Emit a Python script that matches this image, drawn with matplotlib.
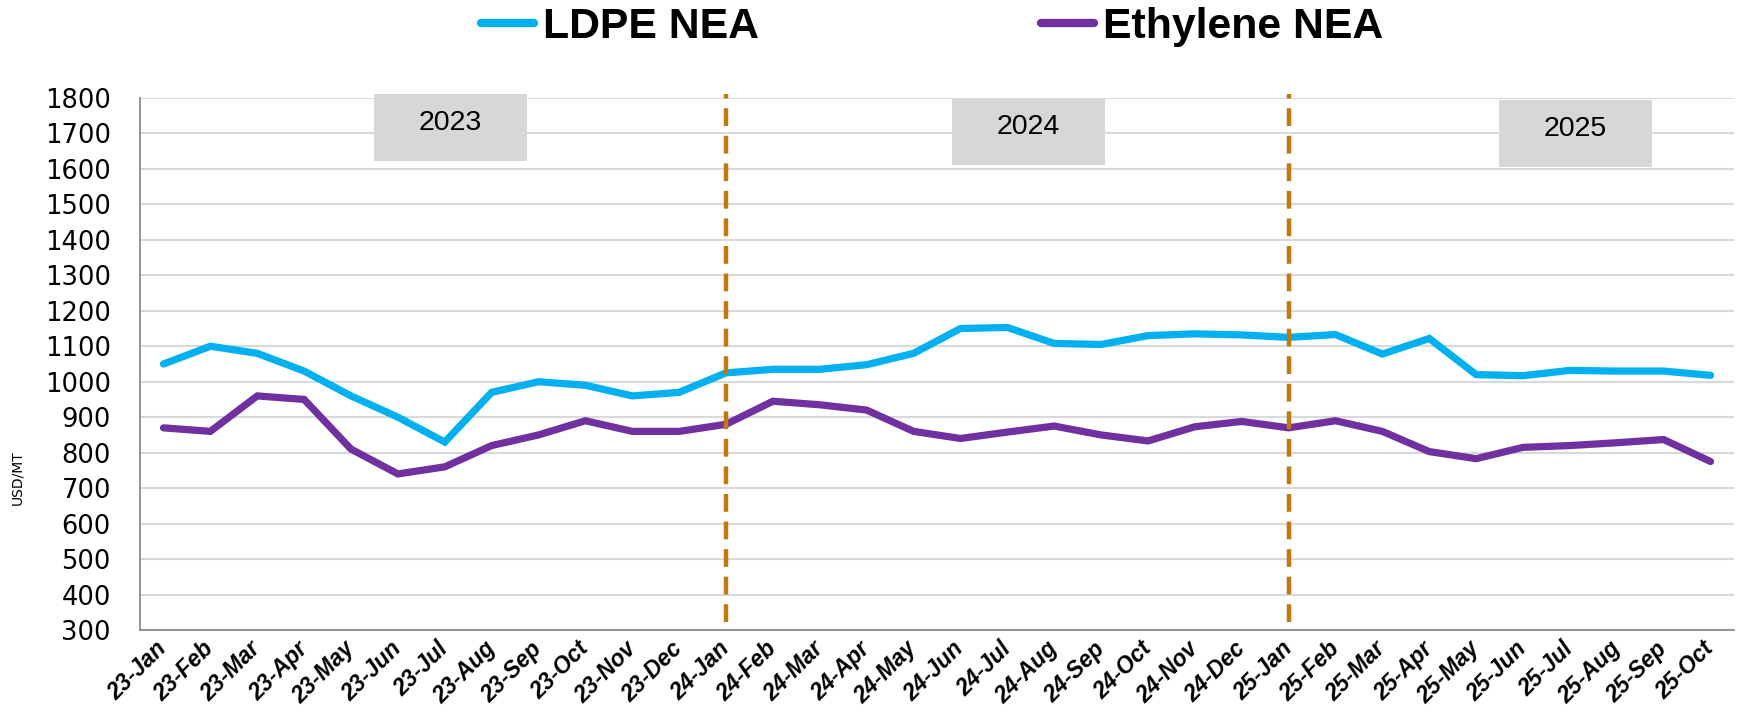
import numpy as np
import matplotlib.pyplot as plt
from matplotlib.patches import Rectangle

########################################################### Data ###########################################################

months = ['Jan', 'Feb', 'Mar', 'Apr', 'May', 'Jun', 'Jul', 'Aug', 'Sep', 'Oct', 'Nov', 'Dec']
categories = [f'{yy}-{m}' for yy in ('23', '24') for m in months] + [f'25-{m}' for m in months[:10]]

ldpe_nea = [1050, 1100, 1080, 1030, 960, 900, 830, 970, 1000, 990, 960, 970,
            1025, 1035, 1035, 1048, 1080, 1150, 1153, 1108, 1105, 1130, 1135, 1132,
            1125, 1133, 1078, 1122, 1020, 1017, 1032, 1030, 1030, 1018]

ethylene_nea = [870, 860, 960, 950, 810, 740, 760, 820, 850, 890, 860, 860,
                880, 945, 935, 920, 860, 840, 858, 875, 850, 833, 873, 888,
                870, 890, 860, 803, 783, 815, 820, 828, 837, 775]

year_labels = ['2023', '2024', '2025']
year_box_x = [4.48, 16.81, 28.48]
year_box_top = [1812, 1800, 1794]
year_dividers = ['24-Jan', '25-Jan']

########################################################### Plot ###########################################################

plt.rcParams['font.family'] = ['DejaVu Sans']

fig = plt.figure(figsize=(17.42, 7.13), dpi=100)
ax = fig.add_axes([0.0804, 0.1164, 0.915, 0.7462])

x = np.arange(len(categories))

ax.plot(x, ldpe_nea, color='#00B0F0', lw=5.2, solid_capstyle='round', solid_joinstyle='miter', label='LDPE NEA', zorder=4)
ax.plot(x, ethylene_nea, color='#7030A0', lw=5.2, solid_capstyle='round', solid_joinstyle='miter', label='Ethylene NEA', zorder=4)

for d in year_dividers:
    xi = categories.index(d)
    ax.plot([xi, xi], [322, 1812], color='#C0780F', lw=3.2, dashes=(4, 2.2), zorder=5, clip_on=False)

for lab, bx, top in zip(year_labels, year_box_x, year_box_top):
    ax.add_patch(Rectangle((bx, top - 190), 3.28, 190, facecolor='#D8D6D6', edgecolor='none', zorder=0.3, clip_on=False))
    ax.text(bx + 1.64, top - 82, lab, ha='center', va='center', fontsize=20.5, family='Liberation Sans', zorder=6)

ax.set_xlim(-0.5, len(categories) - 0.5)
ax.set_ylim(300, 1800)
ax.set_yticks(np.arange(300, 1801, 100))
ax.set_xticks(x)
ax.set_xticklabels(categories, rotation=45, ha='right', va='center', rotation_mode='anchor',
                   fontsize=16.5, fontweight='bold', fontstyle='italic', family='Liberation Sans')
ax.tick_params(axis='y', labelsize=18.5, length=0, pad=21)
ax.tick_params(axis='x', length=0, pad=11)

ax.grid(axis='y', color='#D9D9D9', lw=1.5, zorder=0.5)
ax.set_axisbelow(True)
for s in ['top', 'right']:
    ax.spines[s].set_visible(False)
for s in ['left', 'bottom']:
    ax.spines[s].set_color('#8C8C8C')
    ax.spines[s].set_linewidth(1.3)

fig.text(0.0098, 0.33, 'USD/MT', rotation=90, ha='center', va='center', fontsize=10)

leg = fig.legend(loc='center', bbox_to_anchor=(0.535, 0.962), ncol=2, frameon=False,
                 prop={'family': 'Liberation Sans', 'weight': 'bold', 'size': 30.8},
                 handlelength=1.25, handletextpad=0.2, columnspacing=6.6)
for h in leg.get_lines():
    h.set_linewidth(6)
    h.set_solid_capstyle('round')

fig.savefig('out.png', dpi=100)
